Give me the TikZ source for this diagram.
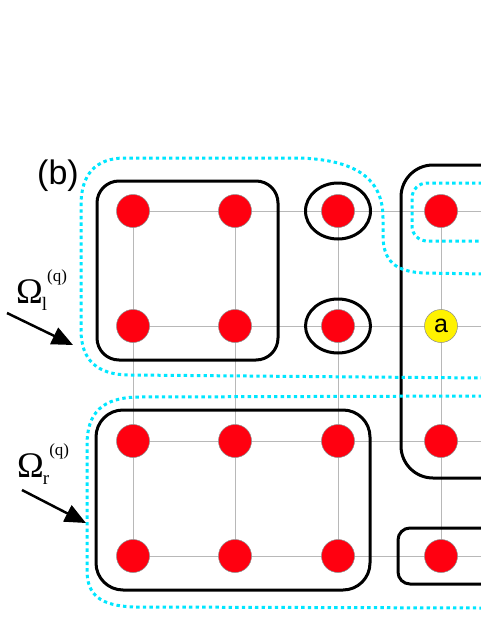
\documentclass[tikz,border=0pt]{standalone}
\usepackage{fontspec}
\setmainfont{Liberation Serif}
\newfontfamily\sansf{Liberation Sans}
\usetikzlibrary{arrows.meta}
\definecolor{cyanline}{RGB}{0,230,255}
\definecolor{dotred}{RGB}{255,0,16}
\begin{document}
\begin{tikzpicture}[x=1pt,y=-1pt,
  gridline/.style={draw=black!28,line width=0.9pt},
  dotnode/.style={circle,fill=dotred,draw=black!45,line width=0.5pt,minimum size=33pt,inner sep=0pt},
  anode/.style={circle,fill=yellow,draw=black!45,line width=0.5pt,minimum size=33pt,inner sep=0pt,font=\sansf\fontsize{25}{25}\selectfont},
  blackbox/.style={draw=black,line width=3pt},
  cyandot/.style={draw=cyanline,line width=3pt,dash pattern=on 3.4pt off 3.2pt},
  bigarrow/.style={draw=black,line width=2.5pt,-{Triangle[length=21pt,width=18pt]}},
  omega/.style={font=\fontsize{36}{36}\selectfont,inner sep=0pt,anchor=base west},
  tagtext/.style={font=\sansf\fontsize{34}{34}\selectfont,inner sep=0pt}
]
\useasboundingbox (0,0) rectangle (480,621);
% grid coordinates
\foreach \r/\y in {1/211,2/326,3/441,4/556}{
  \foreach \c/\x in {1/133,2/235,3/338,4/441}{
    \coordinate (c\r\c) at (\x,\y);
  }
  \coordinate (e\r) at (481,\y);
}
% grid lines
\foreach \r in {1,2,3,4}{ \draw[gridline] (c\r1) -- (e\r); }
\foreach \c in {1,2,3,4}{ \draw[gridline] (c1\c) -- (c4\c); }
% dots
\foreach \r in {1,2,3,4}{
  \foreach \c in {1,2,3,4}{
    \ifnum\r\c=24\else
      \node[dotnode] (d\r\c) at (c\r\c) {};
    \fi
  }
}
\node[anode] (d24) at (c24) {a};
% black boxes
\draw[blackbox,rounded corners=22pt] (97,181) rectangle (278,360);
\draw[blackbox] (d13) ellipse [x radius=32.5pt, y radius=28pt];
\draw[blackbox] (d23) ellipse [x radius=32.5pt, y radius=27pt];
\draw[blackbox,rounded corners=32pt] (482,165) -| (401,478) -- (482,478);
\draw[blackbox,rounded corners=27pt] (96,410) rectangle (370,590);
\draw[blackbox,rounded corners=12pt] (482,528) -| (398,584) -- (482,584);
% cyan dotted regions
\draw[cyandot] (482,274) -- (425,273) .. controls (394,272) and (383,260) .. (383,235)
  -- (383,218) .. controls (383,178) and (355,160) .. (300,158)
  -- (125,158) .. controls (95,158) and (81,175) .. (81,205)
  -- (81,330) .. controls (81,360) and (97,375) .. (130,375) -- (482,378);
\draw[cyandot,rounded corners=15pt] (482,183) -| (412,241) -- (482,241);
\draw[cyandot] (482,396) -- (140,397) .. controls (102,397) and (87,413) .. (87,445)
  -- (87,570) .. controls (87,595) and (100,606) .. (135,607) -- (482,608);
% arrows
\coordinate (al0) at (7,313);
\coordinate (al1) at (73,345);
\draw[bigarrow] (al0) -- (al1);
\coordinate (ar0) at (22,490);
\coordinate (ar1) at (86,523);
\draw[bigarrow] (ar0) -- (ar1);
% labels
\node[omega] (oml) at (16,303) {Ω\kern-1pt\raisebox{-0.2em}{\fontsize{19}{19}\selectfont l}\raisebox{0.6em}{\fontsize{17}{17}\selectfont (q)}};
\node[omega] (omr) at (17,477) {Ω\kern-1pt\raisebox{-0.2em}{\fontsize{19}{19}\selectfont r}\raisebox{0.6em}{\fontsize{17}{17}\selectfont (q)}};
\node[tagtext] (tag) at (58,176) {(b)};
\end{tikzpicture}
\end{document}
